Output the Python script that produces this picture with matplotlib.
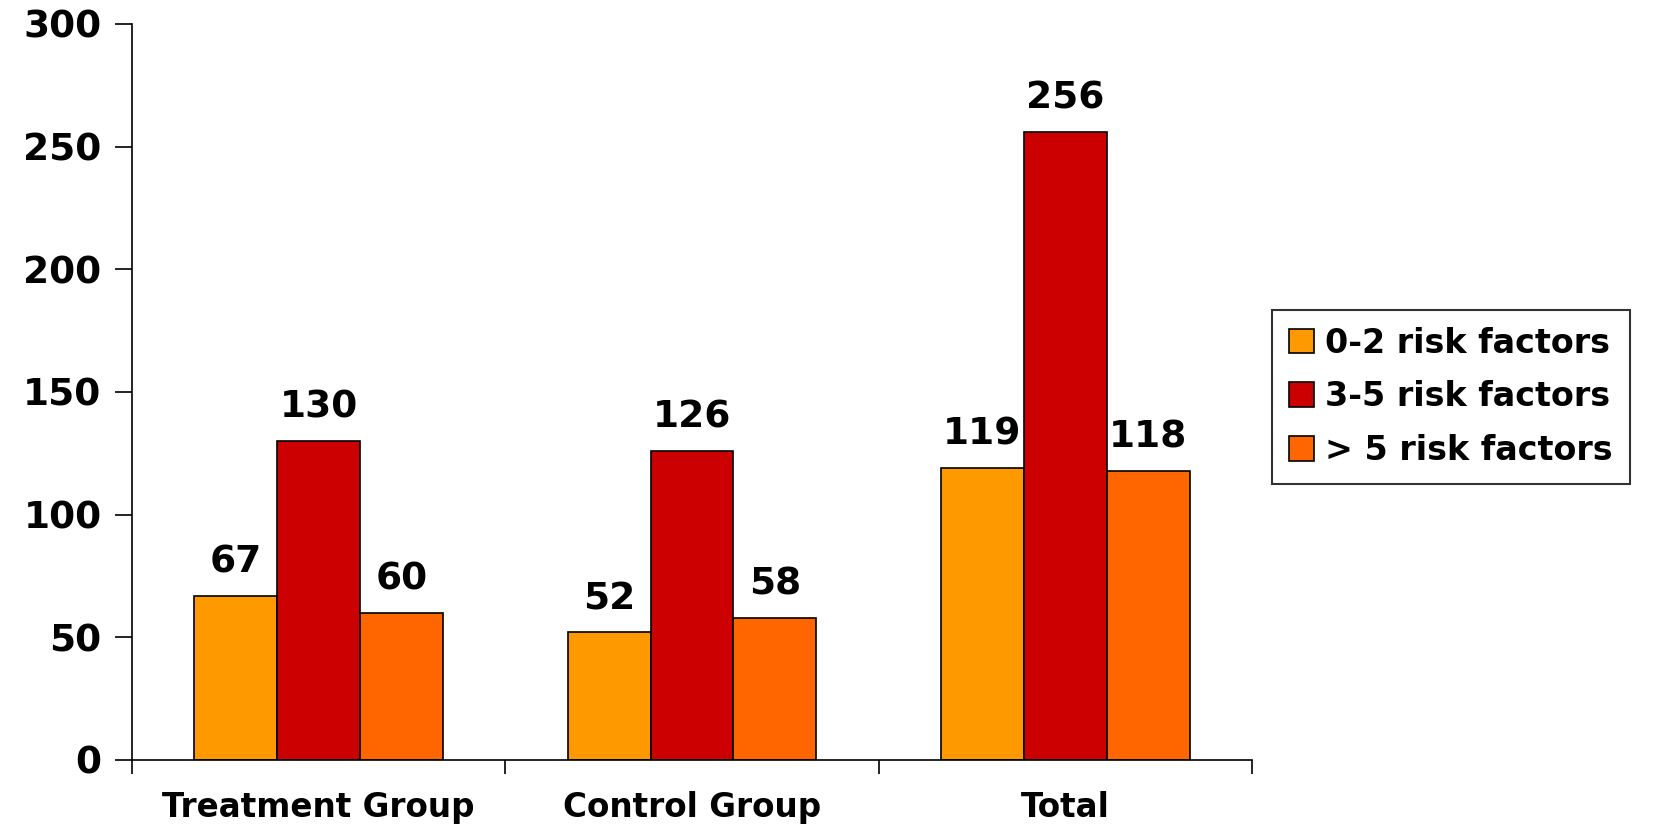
import numpy as np
import matplotlib.pyplot as plt

groups = ["Treatment Group", "Control Group", "Total"]
series_names = ["0-2 risk factors", "3-5 risk factors", "> 5 risk factors"]
low_risk = [67, 52, 119]
mid_risk = [130, 126, 256]
high_risk = [60, 58, 118]
colors = ["#FF9900", "#CC0000", "#FF6600"]

plt.rcParams['font.family'] = 'DejaVu Sans'
plt.rcParams['font.weight'] = 'bold'

fig = plt.figure(figsize=(16.61, 8.26), dpi=100)
ax = fig.add_axes([132 / 1661, 66 / 826, 1120 / 1661, 736 / 826])

x = np.arange(len(groups))
width = 0.222
for i, (vals, name) in enumerate(zip([low_risk, mid_risk, high_risk], series_names)):
    bars = ax.bar(x + (i - 1) * width, vals, width, color=colors[i],
                  edgecolor='black', linewidth=1.2, label=name)
    for b, v in zip(bars, vals):
        ax.annotate(str(v), (b.get_x() + b.get_width() / 2, v),
                    xytext=(0, 11), textcoords='offset points',
                    ha='center', va='bottom', fontsize=27, fontweight='bold')

ax.set_xlim(-0.5, 2.5)
ax.set_ylim(0, 300)
ax.set_yticks(range(0, 301, 50))
ax.set_xticks([-0.5, 0.5, 1.5, 2.5])
ax.set_xticklabels([])
ax.set_xticks(x, minor=True)
ax.set_xticklabels(groups, minor=True, fontsize=23.5, fontweight='bold')
ax.tick_params(axis='x', which='minor', length=0, pad=22)
ax.tick_params(axis='x', which='major', length=10, width=1.2, direction='out')
ax.tick_params(axis='y', length=12, width=1.2, pad=10, labelsize=27)
for lab in ax.get_yticklabels():
    lab.set_fontweight('bold')

ax.spines['top'].set_visible(False)
ax.spines['right'].set_visible(False)
ax.spines['left'].set_linewidth(1.2)
ax.spines['bottom'].set_linewidth(1.2)

leg = fig.legend(loc='upper left', bbox_to_anchor=(1272 / 1661, 1 - 310 / 826),
                 fontsize=24, frameon=True, fancybox=False, edgecolor='black',
                 handlelength=0.75, handleheight=0.75, handletextpad=0.35,
                 borderpad=0.5, labelspacing=0.62, borderaxespad=0)
leg.get_frame().set_linewidth(1.5)
for t in leg.get_texts():
    t.set_fontweight('bold')

fig.savefig('out.png', dpi=100)
